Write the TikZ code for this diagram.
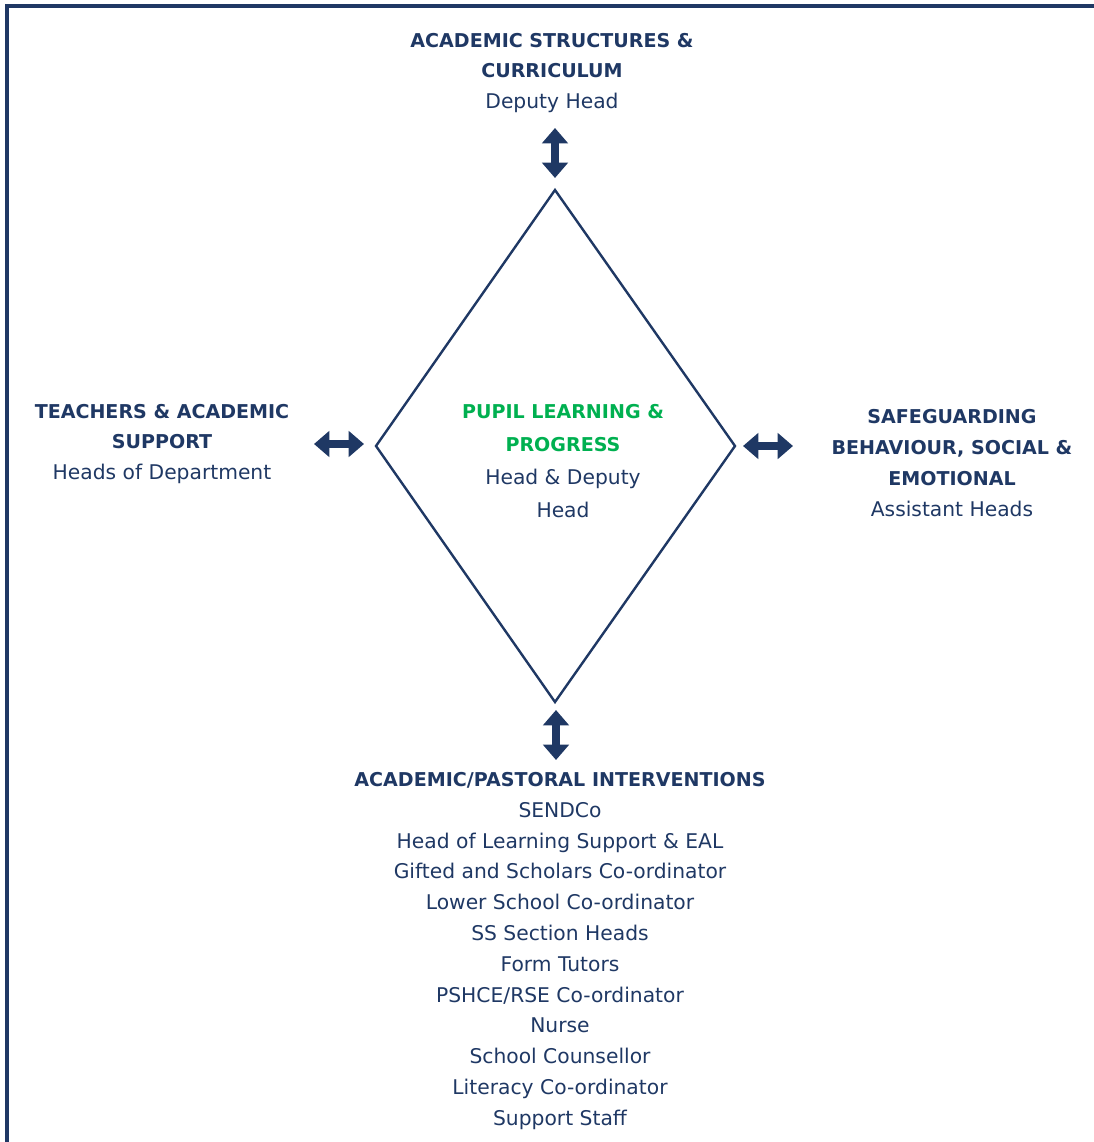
\documentclass[tikz,border=0pt]{standalone}
\usepackage{fontspec}
\setmainfont{DejaVu Sans}
\usetikzlibrary{arrows.meta,positioning}
\definecolor{navy}{RGB}{31,56,100}
\definecolor{pgreen}{RGB}{0,176,80}
\newcommand\hd[1]{{\fontsize{14.3}{23.1}\selectfont\bfseries #1}}

\tikzset{
  lbl/.style={align=center, text=navy, inner sep=0pt, font=\fontsize{15.2}{23.1}\selectfont},
  dblarrow/.style={navy, line width=6.5pt, {Triangle[width=19pt,length=11.5pt]}-{Triangle[width=19pt,length=11.5pt]}},
  frame/.style={navy, line width=2.4pt},
  core/.style={navy, line width=1.8pt, line join=miter},
}

\begin{document}
\begin{tikzpicture}[x=0.75pt, y=-0.75pt]
  \useasboundingbox (0,0) rectangle (1094,1142);

  % frame
  \draw[frame] (7,1142) -- (7,6) -- (1094,6);

  % diamond
  \coordinate (dtop)   at (555,190);
  \coordinate (dright) at (735,446);
  \coordinate (dbot)   at (555,702);
  \coordinate (dleft)  at (376,446);
  \draw[core] (dtop) -- (dright) -- (dbot) -- (dleft) -- cycle;

  % labels
  \node[lbl] (pupil) at (563,461) {\textcolor{pgreen}{\hd{PUPIL LEARNING \&}}\\[1.5pt]\textcolor{pgreen}{\hd{PROGRESS}}\\[1.5pt]Head \& Deputy\\[1.5pt]Head}; %
  \node[lbl] (acad) at (552,73) {\hd{ACADEMIC STRUCTURES \&}\\\hd{CURRICULUM}\\Deputy Head}; %
  \node[lbl] (teach) at (162,444) {\hd{TEACHERS \& ACADEMIC}\\\hd{SUPPORT}\\Heads of Department}; %
  \node[lbl] (safe) at (952,463) {\hd{SAFEGUARDING}\\\hd{BEHAVIOUR, SOCIAL \&}\\\hd{EMOTIONAL}\\Assistant Heads}; %
  \node[lbl] (interv) at (560,951) {\hd{ACADEMIC/PASTORAL INTERVENTIONS}\\SENDCo\\Head of Learning Support \& EAL\\Gifted and Scholars Co-ordinator\\Lower School Co-ordinator\\SS Section Heads\\Form Tutors\\PSHCE/RSE Co-ordinator\\Nurse\\School Counsellor\\Literacy Co-ordinator\\Support Staff}; %

  % arrows
  \coordinate (a1) at (555,128);
  \coordinate (a2) at (555,178);
  \coordinate (b1) at (314,444);
  \coordinate (b2) at (364,444);
  \coordinate (c1) at (743,446);
  \coordinate (c2) at (793,446);
  \coordinate (d1) at (556,710);
  \coordinate (d2) at (556,760);
  \draw[dblarrow] (a1) -- (a2);
  \draw[dblarrow] (b1) -- (b2);
  \draw[dblarrow] (c1) -- (c2);
  \draw[dblarrow] (d1) -- (d2);

\end{tikzpicture}
\end{document}
